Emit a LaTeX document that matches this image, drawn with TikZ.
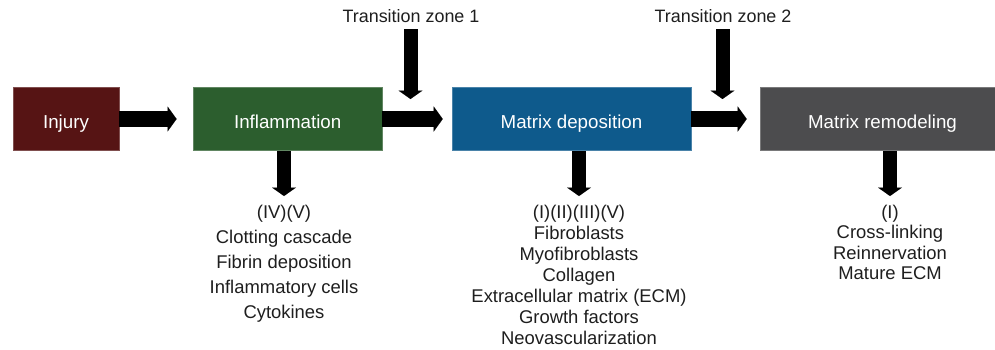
\documentclass[tikz,border=0pt]{standalone}
\usepackage{fontspec}
\setmainfont{Liberation Sans}
\usetikzlibrary{arrows.meta}
\definecolor{injc}{HTML}{561414}
\definecolor{inflc}{HTML}{2C5E2E}
\definecolor{mdc}{HTML}{0E5A8C}
\definecolor{rmc}{HTML}{4C4C4E}
\definecolor{txt}{HTML}{1E1E1E}
\tikzset{
  phase/.style={minimum height=63.5bp, inner sep=0pt, text=white, text height=18bp, text depth=0bp,
    font=\fontsize{18.8}{22}\selectfont, draw=#1!75!white, line width=0.6bp, fill=#1},
  zonelabel/.style={font=\fontsize{18}{22}\selectfont, text=txt, inner sep=3bp},
  listtxt/.style={font=\fontsize{18.5}{#1}\selectfont, text=txt, align=center, inner sep=0pt, anchor=north},
  harrow/.style={draw=black, line width=16bp, -{Triangle[length=9bp,width=25bp,line width=0.01bp]}},
  varrow/.style={draw=black, line width=14bp, -{Triangle[length=8.5bp,width=24bp,line width=0.01bp]}}
}
\begin{document}
\begin{tikzpicture}[x=1bp,y=1bp]
\useasboundingbox (0,0) rectangle (995,-349);
% phase boxes
\node[phase=injc, minimum width=106bp] (inj) at (66,-119) {Injury};
\node[phase=inflc, minimum width=188.7bp] (infl) at (287.7,-119) {Inflammation};
\node[phase=mdc, minimum width=239bp] (md) at (571.5,-119) {Matrix deposition};
\node[phase=rmc, minimum width=235bp] (rm) at (877.5,-119) {\hspace*{10bp}Matrix remodeling};
% transition zones
\node[zonelabel, anchor=base] (tz1) at (411,-22) {Transition zone 1};
\node[zonelabel, anchor=base] (tz2) at (723,-22) {Transition zone 2};
\coordinate (t1) at (410.5,-99);
\coordinate (t2) at (722.5,-99);
% lists
\node[listtxt=25bp] (l1) at (284,-204.5) {(IV)(V)\\Clotting cascade\\Fibrin deposition\\Inflammatory cells\\Cytokines};
\node[listtxt=21bp] (l2) at (579,-204.5) {(I)(II)(III)(V)\\Fibroblasts\\Myofibroblasts\\Collagen\\Extracellular matrix (ECM)\\Growth factors\\Neovascularization};
\node[listtxt=20.5bp] (l3) at (890,-204.5) {(I)\\Cross-linking\\Reinnervation\\Mature ECM};
% horizontal arrows
\draw[harrow, shorten >=16.5bp] (inj.east) -- (infl.west);
\draw[harrow, shorten >=9bp] (infl.east) -- (md.west);
\draw[harrow, shorten >=13bp] (md.east) -- (rm.west);
% transition arrows
\draw[varrow, shorten <=4bp] (tz1.south -| t1) -- (t1);
\draw[varrow, shorten <=4bp] (tz2.south -| t2) -- (t2);
% down arrows
\draw[varrow, shorten >=8.5bp] (infl.south -| l1.north) -- (l1.north);
\draw[varrow, shorten >=8.5bp] (md.south -| l2.north) -- (l2.north);
\draw[varrow, shorten >=8.5bp] (rm.south -| l3.north) -- (l3.north);
\end{tikzpicture}
\end{document}
